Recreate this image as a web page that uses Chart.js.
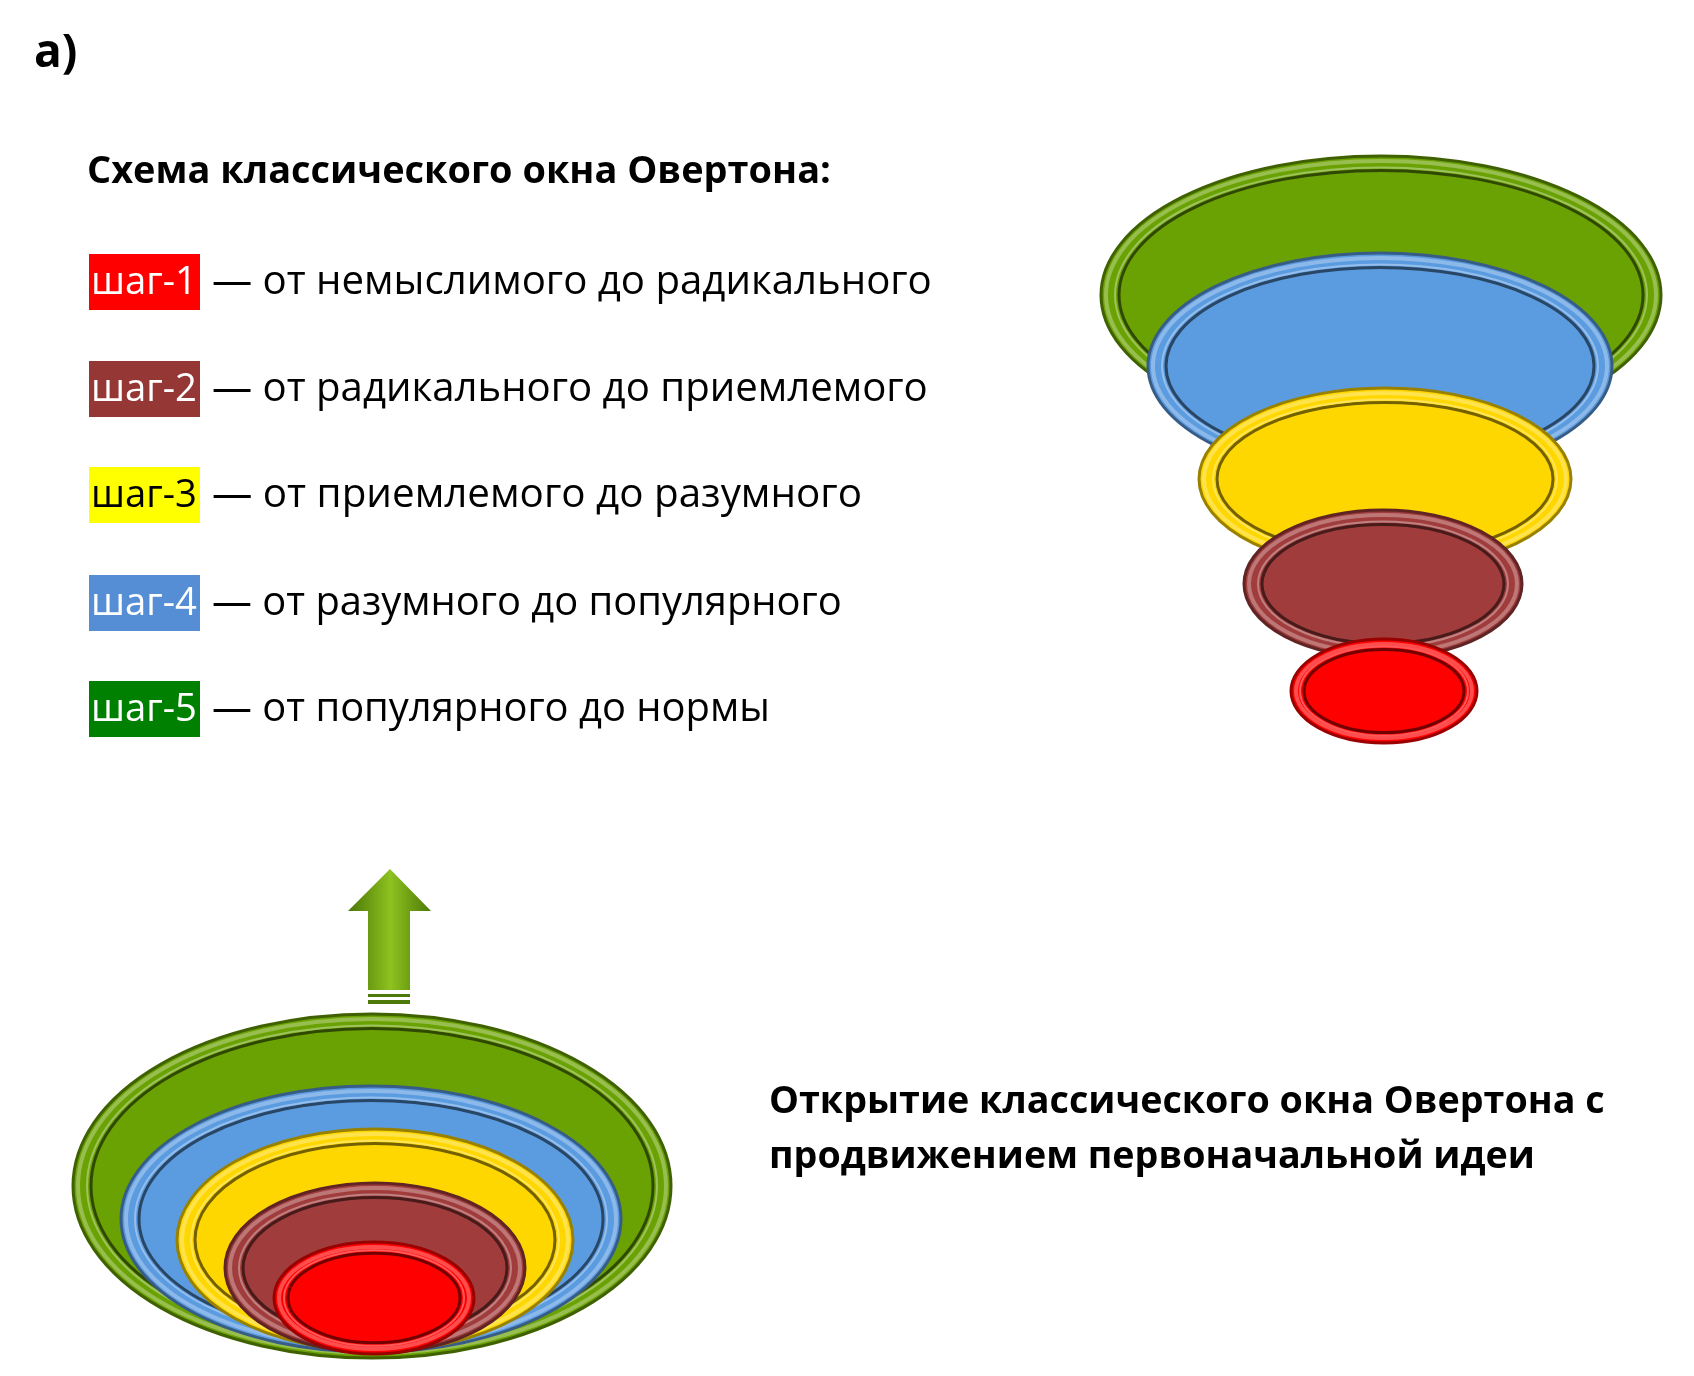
<!DOCTYPE html>
<html><head><meta charset="utf-8">
<script src="https://cdn.jsdelivr.net/npm/chart.js@4"></script>
<style>html,body{margin:0;background:#fff}#wrap{width:1694px;height:1376px}</style>
</head><body><div id="wrap"><canvas id="c"></canvas></div>
<script>
// Шаги окна Овертона
const steps = ['шаг-1', 'шаг-2', 'шаг-3', 'шаг-4', 'шаг-5'];
const stepTexts = ['— от немыслимого до радикального', '— от радикального до приемлемого',
  '— от приемлемого до разумного', '— от разумного до популярного', '— от популярного до нормы'];
const boxColors = ['#ff0000', '#953735', '#ffff00', '#558ed5', '#008000'];
const boxTextColors = ['#fff', '#fff', '#000', '#fff', '#fff'];
const ringColors = ['#ff0000', '#a03c3c', '#ffd700', '#5b9be0', '#6aa204'];

// эллипсы: верхняя схема (шаг-1..шаг-5)
const topX = [1384, 1383, 1385, 1380, 1381];
const topY = [691, 584, 479, 366, 295];
const topRx = [93, 139, 186, 232, 280];
const topRy = [52, 74, 91, 113, 139];
// нижняя схема
const botX = [374, 375, 375, 371, 372];
const botY = [1298, 1268, 1240, 1219, 1186];
const botRx = [100, 150, 198, 250, 299];
const botRy = [56, 85, 111, 133, 172];

const shade = (hex, f) => {
  const n = parseInt(hex.slice(1), 16);
  const ch = [(n >> 16) & 255, (n >> 8) & 255, n & 255].map(v => Math.round(f < 1 ? v * f : v + (255 - v) * (f - 1)));
  return `rgb(${ch.join(',')})`;
};

function ellipse(ctx, x, y, rx, ry, color) {
  ctx.save();
  ctx.beginPath(); ctx.ellipse(x, y, rx, ry, 0, 0, Math.PI * 2);
  ctx.fillStyle = color; ctx.fill();
  ctx.lineWidth = 3; ctx.strokeStyle = shade(color, 0.6); ctx.stroke();
  ctx.beginPath(); ctx.ellipse(x, y, rx - 5, ry - 5, 0, 0, Math.PI * 2);
  ctx.lineWidth = 4; ctx.strokeStyle = shade(color, 1.3); ctx.stroke();
  const ir = Math.min(18, rx * 0.14);
  ctx.beginPath(); ctx.ellipse(x, y, rx - ir, ry - ir * 0.8, 0, 0, Math.PI * 2);
  ctx.lineWidth = 3; ctx.strokeStyle = shade(color, 0.45); ctx.stroke();
  ctx.beginPath(); ctx.ellipse(x, y, rx - ir + 4, ry - ir * 0.8 + 3, 0, 0, Math.PI * 2);
  ctx.lineWidth = 2; ctx.strokeStyle = shade(color, 1.35); ctx.stroke();
  ctx.restore();
}

function fitFont(ctx, text, weight, width) {
  ctx.font = `${weight} 40px "Open Sans"`;
  const s = 40 * width / ctx.measureText(text).width;
  ctx.font = `${weight} ${s}px "Open Sans"`;
}

const drawPlugin = {
  id: 'draw',
  afterDatasetsDraw(chart) {
    const { ctx, scales: { x, y } } = chart;
    const sx = v => x.getPixelForValue(v), sy = v => y.getPixelForValue(v);
    const rX = r => Math.abs(sx(r) - sx(0)), rY = r => Math.abs(sy(r) - sy(0));
    for (let i = 4; i >= 0; i--) {
      ellipse(ctx, sx(topX[i]), sy(topY[i]), rX(topRx[i]), rY(topRy[i]), ringColors[i]);
      ellipse(ctx, sx(botX[i]), sy(botY[i]), rX(botRx[i]), rY(botRy[i]), ringColors[i]);
    }
    // стрелка
    ctx.save();
    const g = ctx.createLinearGradient(sx(350), 0, sx(431), 0);
    g.addColorStop(0, '#4d7a08'); g.addColorStop(0.5, '#8dc21f'); g.addColorStop(1, '#4d7a08');
    ctx.fillStyle = g;
    ctx.beginPath();
    ctx.moveTo(sx(390), sy(869)); ctx.lineTo(sx(431), sy(911)); ctx.lineTo(sx(410), sy(911));
    ctx.lineTo(sx(410), sy(990)); ctx.lineTo(sx(368), sy(990)); ctx.lineTo(sx(368), sy(911));
    ctx.lineTo(sx(348), sy(911)); ctx.closePath(); ctx.fill();
    ctx.fillStyle = '#4d7a08';
    ctx.fillRect(sx(368), sy(994), sx(410) - sx(368), 3);
    ctx.fillRect(sx(368), sy(1000), sx(410) - sx(368), 4);
    ctx.restore();

    // тексты
    ctx.save();
    ctx.textBaseline = 'middle'; ctx.fillStyle = '#000';
    ctx.font = 'bold 46px "Open Sans"';
    ctx.fillText('а)', sx(34), sy(54));
    const title = 'Схема классического окна Овертона:';
    fitFont(ctx, title, 'bold', 744);
    ctx.fillText(title, sx(87), sy(172));
    const rows = [282, 389, 495, 603, 709];
    const lineW = [720, 716, 650, 630, 558];
    steps.forEach((s, i) => {
      ctx.fillStyle = boxColors[i];
      ctx.fillRect(sx(89), sy(rows[i] - 28), sx(200) - sx(89), sy(rows[i] + 28) - sy(rows[i] - 28));
      ctx.fillStyle = boxTextColors[i];
      fitFont(ctx, s, 'normal', 106);
      ctx.fillText(s, sx(91), sy(rows[i] + 1));
      ctx.fillStyle = '#000';
      fitFont(ctx, stepTexts[i], 'normal', lineW[i]);
      ctx.fillText(stepTexts[i], sx(212), sy(rows[i] + 1));
    });
    const l1 = 'Открытие классического окна Овертона с';
    fitFont(ctx, l1, 'bold', 836);
    ctx.fillText(l1, sx(769), sy(1102));
    ctx.fillText('продвижением первоначальной идеи', sx(769), sy(1157));
    ctx.restore();
  }
};

new Chart(document.getElementById('c'), {
  type: 'scatter',
  data: {
    datasets: [
      { label: 'top', data: topX.map((v, i) => ({ x: v, y: topY[i] })), pointRadius: 0 },
      { label: 'bottom', data: botX.map((v, i) => ({ x: v, y: botY[i] })), pointRadius: 0 }
    ]
  },
  options: {
    animation: false, responsive: true, maintainAspectRatio: false,
    layout: { padding: 0 },
    plugins: { legend: { display: false }, tooltip: { enabled: false } },
    scales: {
      x: { type: 'linear', min: 0, max: 1694, display: false },
      y: { type: 'linear', min: 0, max: 1376, reverse: true, display: false }
    }
  },
  plugins: [drawPlugin]
});
</script></body></html>
